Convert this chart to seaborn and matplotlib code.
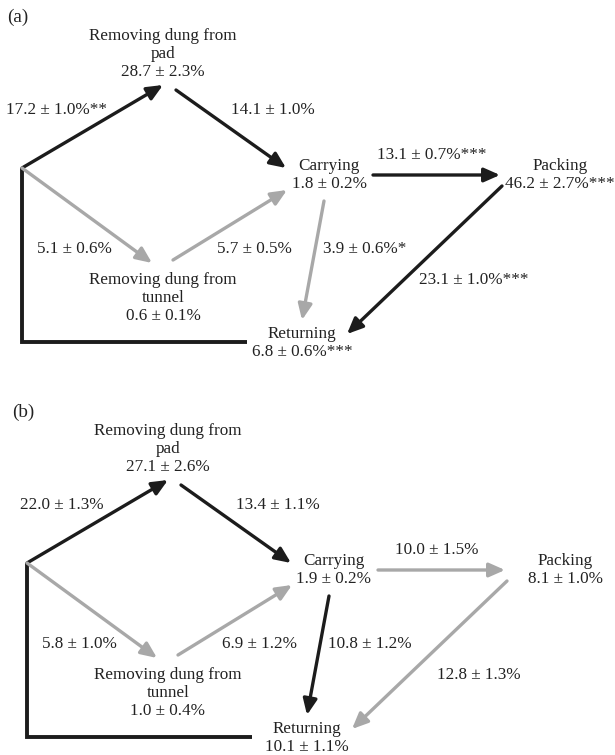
import matplotlib
matplotlib.use("Agg")
import matplotlib.pyplot as plt
import seaborn as sns
import pandas as pd

sns.set_theme(style="white")
plt.rcParams["font.family"] = ["Liberation Serif", "DejaVu Serif"]

# ---- behavioural states ----
state_keys = ["pad", "carrying", "packing", "tunnel", "returning"]
state_names = ["Removing dung from\npad", "Carrying", "Packing",
               "Removing dung from\ntunnel", "Returning"]

state_mean_a = [28.7, 1.8, 46.2, 0.6, 6.8]
state_se_a = [2.3, 0.2, 2.7, 0.1, 0.6]
state_sig_a = ["", "", "***", "", "***"]

state_mean_b = [27.1, 1.9, 8.1, 1.0, 10.1]
state_se_b = [2.6, 0.2, 1.0, 0.4, 1.1]
state_sig_b = ["", "", "", "", ""]

# ---- transitions between states ----
edge_from = ["start", "pad", "carrying", "packing", "start", "tunnel", "carrying"]
edge_to = ["pad", "carrying", "packing", "returning", "tunnel", "carrying", "returning"]

trans_mean_a = [17.2, 14.1, 13.1, 23.1, 5.1, 5.7, 3.9]
trans_se_a = [1.0, 1.0, 0.7, 1.0, 0.6, 0.5, 0.6]
trans_sig_a = ["**", "", "***", "***", "", "", "*"]
trans_main_a = [1, 1, 1, 1, 0, 0, 0]

trans_mean_b = [22.0, 13.4, 10.0, 12.8, 5.8, 6.9, 10.8]
trans_se_b = [1.3, 1.1, 1.5, 1.3, 1.0, 1.2, 1.2]
trans_sig_b = ["", "", "", "", "", "", ""]
trans_main_b = [1, 1, 0, 0, 0, 0, 1]

panel_labels = ["(a)", "(b)"]

# ---- diagram layout (pixel space, y downwards) ----
node_xy = {"pad": (163, 54), "carrying": (329, 175), "packing": (560, 175),
           "tunnel": (163, 298), "returning": (302, 343)}
arrow_xy = {
    ("start", "pad"): ((22, 168), (163, 85)),
    ("pad", "carrying"): ((176, 90), (286, 168)),
    ("carrying", "packing"): ((373, 175), (500, 175)),
    ("packing", "returning"): ((502, 186), (347, 334)),
    ("start", "tunnel"): ((22, 168), (152, 263)),
    ("tunnel", "carrying"): ((173, 260), (287, 190)),
    ("carrying", "returning"): ((324, 201), (302, 320)),
}
edge_label_xy = {
    ("start", "pad"): (57, 110),
    ("pad", "carrying"): (273, 110),
    ("carrying", "packing"): (432, 155),
    ("packing", "returning"): (474, 280),
    ("start", "tunnel"): (74, 249),
    ("tunnel", "carrying"): (254, 249),
    ("carrying", "returning"): (365, 249),
}
loop_x = [247, 22, 22]
loop_y = [342, 342, 168]
panel_offsets = [(0, 0), (5, 395)]

DARK = "#1c1c1c"
LIGHT = "#a8a8a8"
INK = "#222222"
FS = 12.3

fig = plt.figure(figsize=(6.15, 7.55), dpi=100)
ax = fig.add_axes([0, 0, 1, 1])
ax.set_xlim(0, 615)
ax.set_ylim(755, 0)
ax.axis("off")

panels = [
    (state_mean_a, state_se_a, state_sig_a, trans_mean_a, trans_se_a, trans_sig_a, trans_main_a),
    (state_mean_b, state_se_b, state_sig_b, trans_mean_b, trans_se_b, trans_sig_b, trans_main_b),
]

for p, (smean, sse, ssig, tmean, tse, tsig, tmain) in enumerate(panels):
    dx, dy = panel_offsets[p]
    ax.text(7 + dx, 17 + dy, panel_labels[p], fontsize=FS + 1.5, ha="left", va="center",
            color=INK)

    # loop back from Returning to the start of the cycle
    loop = pd.DataFrame({"x": [v + dx for v in loop_x], "y": [v + dy for v in loop_y]})
    sns.lineplot(data=loop, x="x", y="y", sort=False, estimator=None, ax=ax,
                 color=DARK, lw=2.8, solid_capstyle="butt", solid_joinstyle="miter")

    # states
    for k, name, m, s, sig in zip(state_keys, state_names, smean, sse, ssig):
        x, y = node_xy[k]
        ax.text(x + dx, y + dy, f"{name}\n{m:.1f} ± {s:.1f}%{sig}", fontsize=FS,
                ha="center", va="center", multialignment="center",
                linespacing=1.2, color=INK)

    # transitions
    for a, b, m, s, sig, main in zip(edge_from, edge_to, tmean, tse, tsig, tmain):
        (x0, y0), (x1, y1) = arrow_xy[(a, b)]
        col = DARK if main else LIGHT
        ax.annotate("", xy=(x1 + dx, y1 + dy), xytext=(x0 + dx, y0 + dy),
                    arrowprops=dict(arrowstyle="-|>,head_length=0.95,head_width=0.42",
                                    color=col, lw=2.4, shrinkA=0, shrinkB=0,
                                    mutation_scale=10))
        lx, ly = edge_label_xy[(a, b)]
        ax.text(lx + dx, ly + dy, f"{m:.1f} ± {s:.1f}%{sig}", fontsize=FS,
                ha="center", va="center", color=INK)

ax.set_xlabel("")
ax.set_ylabel("")
fig.savefig("out.png", dpi=100)
